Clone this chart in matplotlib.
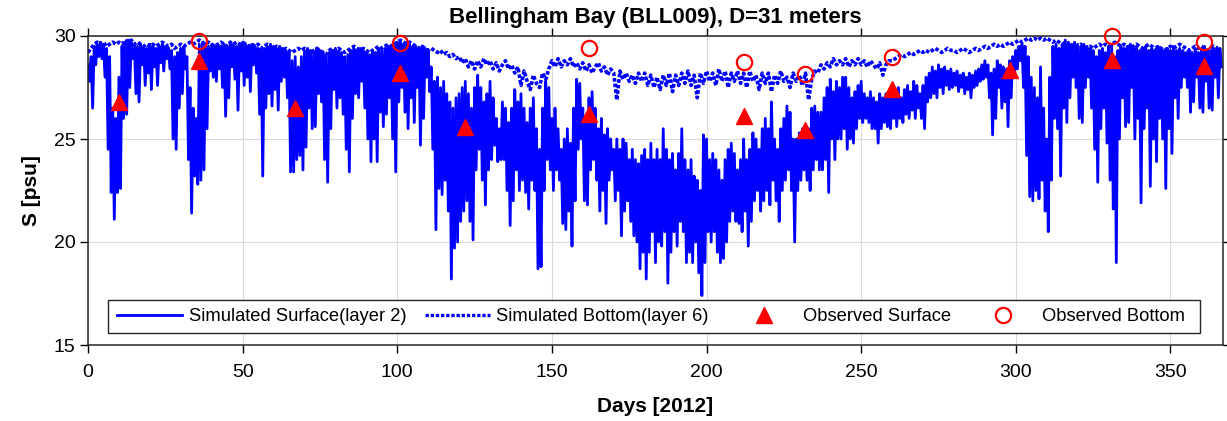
import numpy as np
import matplotlib
matplotlib.use("Agg")
import matplotlib.pyplot as plt
from matplotlib.patches import Rectangle
from matplotlib.lines import Line2D
from matplotlib.legend import Legend

plt.rcParams['font.family'] = ['Liberation Sans', 'DejaVu Sans']

# Daily upper (hi) and lower (lo) salinity of the surface layer, day 0..366
surf_hi = [
    28.6, 29.0, 29.5, 29.6, 29.7, 29.6, 29.4, 29.0, 26.5, 26.0,
    28.0, 29.5, 29.7, 29.8, 29.7, 29.6, 29.5, 29.6, 29.5, 29.4,
    29.6, 29.5, 29.4, 29.5, 29.6, 29.5, 29.4, 29.3, 29.0, 29.2,
    29.4, 29.5, 29.0, 27.5, 26.5, 26.0, 29.6, 29.7, 29.6, 29.5,
    29.6, 29.5, 29.6, 29.5, 29.6, 29.5, 29.7, 29.6, 29.5, 29.6,
    29.7, 29.6, 29.5, 29.6, 29.5, 29.4, 29.3, 29.4, 29.5, 29.6,
    29.5, 29.4, 29.5, 29.4, 29.3, 29.2, 28.8, 29.0, 28.5, 29.0,
    29.3, 29.4, 29.3, 29.2, 29.4, 29.3, 29.2, 29.0, 29.2, 29.3,
    29.4, 29.3, 29.2, 29.0, 29.1, 29.3, 29.4, 29.3, 29.4, 29.3,
    29.2, 29.1, 29.3, 29.2, 29.4, 29.3, 29.4, 29.5, 29.4, 29.5,
    29.7, 29.7, 29.6, 29.7, 29.6, 29.5, 29.5, 29.4, 29.5, 29.4,
    29.3, 28.5, 27.8, 28.0, 27.5, 27.8, 27.2, 26.8, 26.5, 27.0,
    27.2, 27.5, 27.8, 27.2, 26.5, 27.5, 28.1, 27.5, 26.8, 27.2,
    27.8, 27.0, 26.0, 25.5, 26.8, 26.5, 25.8, 26.5, 27.4, 26.8,
    27.2, 26.5, 25.8, 26.5, 27.0, 25.5, 24.5, 26.5, 27.8, 27.5,
    26.0, 26.5, 25.5, 24.5, 25.0, 25.5, 24.8, 26.5, 27.9, 27.7,
    26.5, 26.0, 27.0, 27.3, 26.5, 25.5, 26.0, 25.2, 25.5, 25.0,
    24.5, 25.0, 24.5, 25.0, 24.8, 24.0, 24.5, 24.0, 23.8, 24.2,
    24.5, 24.0, 24.8, 24.0, 24.5, 24.0, 25.5, 24.5, 24.0, 24.3,
    23.5, 24.3, 25.5, 24.0, 23.5, 24.0, 23.2, 23.0, 22.5, 25.2,
    25.0, 24.0, 24.3, 24.0, 23.5, 23.0, 24.0, 24.5, 24.8, 24.3,
    23.5, 24.0, 25.0, 24.0, 24.5, 25.3, 25.0, 24.5, 25.5, 26.0,
    25.5, 26.8, 25.0, 24.5, 25.5, 26.0, 26.6, 26.3, 25.0, 25.0,
    25.3, 25.5, 25.0, 25.5, 26.5, 26.6, 26.3, 26.3, 27.0, 27.5,
    27.9, 27.3, 27.8, 27.5, 28.0, 28.0, 27.5, 27.0, 27.3, 27.6,
    27.8, 27.2, 27.0, 27.3, 27.0, 26.8, 27.2, 27.0, 27.2, 27.0,
    27.4, 27.2, 27.5, 27.0, 27.4, 27.6, 27.3, 27.8, 27.6, 27.2,
    27.6, 28.0, 28.2, 28.5, 28.3, 28.6, 28.4, 28.5, 28.3, 28.4,
    28.2, 28.3, 28.1, 28.2, 28.0, 28.2, 28.1, 28.3, 28.4, 28.6,
    28.8, 28.6, 28.2, 28.4, 28.8, 28.6, 28.5, 28.4, 28.8, 29.0,
    29.3, 29.5, 29.6, 29.5, 29.0, 28.0, 27.5, 27.0, 28.5, 26.5,
    25.0, 28.0, 29.5, 29.6, 29.4, 29.6, 29.8, 29.7, 29.6, 29.7,
    29.6, 29.5, 29.6, 29.5, 29.4, 29.3, 29.0, 29.3, 29.4, 29.2,
    29.5, 29.6, 29.0, 29.3, 29.5, 29.4, 29.5, 29.6, 29.4, 29.5,
    29.3, 29.4, 29.5, 29.3, 29.4, 29.3, 29.5, 29.4, 29.3, 29.4,
    29.3, 29.5, 29.3, 29.4, 29.3, 29.2, 29.3, 29.2, 29.4, 29.2,
    29.3, 29.5, 29.2, 29.3, 29.4, 29.3, 29.4,
]

surf_lo = [
    27.8, 26.5, 28.6, 29.0, 28.9, 28.0, 24.5, 22.4, 21.1, 22.4,
    22.6, 26.0, 26.2, 27.5, 28.9, 27.2, 26.8, 28.6, 27.6, 28.2,
    27.4, 28.5, 27.6, 28.7, 28.3, 28.9, 28.4, 25.0, 24.5, 26.5,
    27.2, 28.4, 24.0, 21.4, 23.2, 22.8, 23.0, 23.5, 25.5, 28.3,
    28.0, 27.8, 28.4, 27.5, 26.1, 27.0, 28.5, 27.9, 26.4, 28.3,
    27.6, 28.0, 27.3, 28.6, 28.2, 26.2, 23.2, 26.5, 27.2, 26.6,
    27.4, 26.4, 27.8, 28.0, 27.0, 23.4, 23.4, 24.0, 24.2, 23.5,
    24.6, 26.5, 25.5, 25.6, 27.2, 26.8, 24.0, 22.9, 25.5, 27.4,
    26.5, 27.0, 26.2, 24.5, 23.4, 26.0, 27.2, 27.0, 27.8, 26.5,
    25.0, 23.9, 25.0, 23.9, 26.3, 25.6, 26.2, 27.0, 25.0, 23.4,
    26.8, 27.5, 26.3, 25.5, 27.0, 25.8, 27.5, 24.7, 26.0, 28.0,
    27.3, 24.5, 20.6, 22.6, 22.3, 23.0, 21.5, 18.2, 19.7, 20.0,
    21.0, 21.5, 22.0, 21.0, 20.1, 23.5, 24.5, 23.0, 21.8, 23.5,
    24.0, 24.7, 23.9, 24.0, 24.0, 22.5, 20.8, 22.0, 23.5, 22.5,
    23.0, 22.4, 21.6, 23.0, 22.5, 18.7, 18.8, 22.5, 24.0, 23.5,
    22.5, 23.5, 23.0, 20.9, 20.6, 21.5, 19.8, 22.0, 24.5, 25.0,
    22.0, 21.8, 23.5, 24.0, 23.0, 21.5, 22.5, 20.9, 23.0, 23.5,
    22.0, 22.5, 20.3, 21.5, 22.0, 21.0, 20.3, 20.0, 18.7, 19.5,
    18.2, 19.5, 20.5, 19.0, 20.0, 19.8, 20.5, 18.0, 19.5, 20.5,
    19.8, 21.0, 20.5, 19.0, 19.5, 19.0, 20.0, 18.5, 17.4, 19.0,
    20.5, 20.0, 20.5, 19.5, 19.0, 19.2, 20.0, 21.0, 21.5, 21.0,
    20.9, 20.5, 21.5, 19.8, 21.0, 22.0, 22.5, 21.5, 22.0, 22.5,
    21.8, 23.0, 22.0, 21.0, 22.5, 23.0, 23.5, 22.5, 20.0, 22.5,
    23.0, 23.5, 23.0, 22.5, 23.5, 24.0, 23.5, 23.5, 24.0, 22.4,
    25.0, 24.0, 25.0, 25.0, 25.5, 24.5, 25.0, 24.8, 25.5, 26.0,
    25.8, 26.0, 25.8, 25.5, 25.5, 24.8, 25.5, 25.8, 25.6, 25.5,
    26.0, 25.6, 26.0, 25.8, 26.2, 26.0, 26.4, 26.0, 26.5, 26.0,
    25.5, 26.8, 27.0, 27.2, 27.0, 27.5, 27.2, 27.6, 27.4, 27.5,
    27.6, 27.3, 27.5, 27.2, 27.4, 27.0, 27.5, 27.6, 27.8, 27.9,
    28.0, 27.0, 25.2, 26.0, 27.5, 26.5, 26.8, 25.6, 27.0, 28.0,
    28.4, 28.8, 27.5, 24.2, 22.2, 22.0, 22.5, 22.1, 23.0, 21.5,
    20.5, 23.0, 26.0, 25.5, 23.2, 26.5, 25.8, 27.0, 28.0, 27.5,
    26.0, 25.8, 27.5, 28.0, 26.5, 24.5, 22.9, 25.5, 26.5, 24.8,
    23.0, 21.6, 19.0, 25.0, 27.0, 25.6, 25.8, 27.5, 25.0, 26.0,
    21.9, 25.5, 26.5, 22.7, 25.0, 23.9, 26.0, 25.0, 22.6, 25.5,
    24.3, 27.0, 26.0, 27.5, 28.0, 27.5, 26.3, 26.8, 28.0, 26.5,
    26.3, 27.8, 26.5, 26.4, 28.0, 27.0, 28.5,
]

# Daily salinity of the bottom layer, day 0..366
bottom = [
    29.2, 29.4, 29.6, 29.7, 29.6, 29.7, 29.5, 29.6, 29.7, 29.6,
    29.7, 29.6, 29.8, 29.7, 29.8, 29.6, 29.7, 29.6, 29.5, 29.6,
    29.5, 29.6, 29.5, 29.6, 29.7, 29.6, 29.5, 29.6, 29.4, 29.5,
    29.6, 29.5, 29.6, 29.7, 29.6, 29.7, 29.8, 29.7, 29.6, 29.7,
    29.6, 29.5, 29.6, 29.7, 29.6, 29.5, 29.7, 29.6, 29.7, 29.6,
    29.7, 29.6, 29.5, 29.6, 29.5, 29.6, 29.4, 29.5, 29.6, 29.5,
    29.4, 29.5, 29.4, 29.3, 29.4, 29.3, 29.2, 29.3, 29.4, 29.3,
    29.4, 29.3, 29.2, 29.3, 29.4, 29.3, 29.2, 29.1, 29.3, 29.4,
    29.3, 29.4, 29.3, 29.2, 29.3, 29.4, 29.5, 29.4, 29.3, 29.4,
    29.3, 29.2, 29.3, 29.4, 29.5, 29.4, 29.5, 29.6, 29.5, 29.6,
    29.7, 29.8, 29.7, 29.6, 29.7, 29.6, 29.5, 29.4, 29.5, 29.4,
    29.3, 29.4, 29.3, 29.2, 29.3, 29.1, 29.2, 29.0, 29.1, 28.9,
    29.0, 28.7, 28.9, 28.5, 28.8, 28.4, 28.8, 28.5, 28.9, 28.6,
    28.8, 28.4, 28.7, 28.3, 28.6, 28.8, 28.4, 28.6, 28.2, 28.5,
    27.6, 28.3, 27.8, 27.4, 28.1, 27.7, 27.5, 28.2, 27.9, 28.4,
    28.8, 28.5, 28.9, 28.5, 28.8, 28.6, 28.9, 28.5, 28.7, 28.4,
    28.7, 28.3, 28.6, 28.2, 28.5, 28.7, 28.3, 28.5, 28.1, 28.4,
    28.2, 26.9, 28.3, 27.9, 28.2, 27.8, 28.1, 27.7, 28.2, 27.8,
    28.2, 27.6, 28.1, 27.5, 28.0, 27.4, 28.1, 27.6, 28.2, 27.3,
    28.1, 27.6, 28.2, 27.7, 28.3, 27.6, 28.1, 27.0, 28.2, 27.7,
    28.3, 27.8, 28.2, 27.6, 28.4, 27.8, 28.3, 27.5, 28.2, 27.8,
    28.3, 27.7, 28.2, 27.5, 28.3, 27.8, 28.1, 27.4, 28.2, 27.7,
    28.2, 27.3, 28.1, 27.7, 28.3, 27.8, 28.0, 27.5, 28.2, 27.8,
    28.1, 27.6, 28.2, 26.9, 27.9, 28.3, 28.2, 28.6, 28.4, 28.7,
    28.5, 28.9, 28.6, 28.8, 28.6, 28.9, 28.5, 28.8, 28.6, 28.9,
    28.6, 28.8, 28.5, 28.8, 28.6, 28.4, 28.7, 28.1, 28.6, 28.8,
    28.8, 28.9, 29.0, 29.1, 29.0, 29.1, 29.2, 29.1, 29.2, 29.3,
    29.2, 29.3, 29.2, 29.3, 29.4, 29.3, 29.2, 29.3, 29.4, 29.3,
    29.3, 29.2, 29.3, 29.4, 29.3, 29.2, 29.3, 29.4, 29.3, 29.4,
    29.5, 29.4, 29.5, 29.6, 29.5, 29.6, 29.5, 29.6, 29.7, 29.6,
    29.7, 29.8, 29.7, 29.8, 29.9, 29.8, 29.9, 29.8, 29.9, 29.8,
    29.9, 29.8, 29.7, 29.8, 29.7, 29.6, 29.7, 29.6, 29.5, 29.6,
    29.5, 29.6, 29.5, 29.4, 29.5, 29.4, 29.5, 29.6, 29.5, 29.6,
    29.5, 29.6, 29.7, 29.6, 29.5, 29.6, 29.5, 29.4, 29.5, 29.6,
    29.5, 29.4, 29.5, 29.6, 29.5, 29.4, 29.5, 29.4, 29.3, 29.4,
    29.5, 29.4, 29.5, 29.6, 29.5, 29.4, 29.3, 29.4, 29.5, 29.4,
    29.5, 29.4, 29.3, 29.4, 29.5, 29.4, 29.5,
]

# Observations (CTD casts)
obs_days = [10, 36, 67, 101, 122, 162, 212, 232, 260, 298, 331, 361]
obs_surface = [26.8, 28.8, 26.5, 28.2, 25.6, 26.2, 26.1, 25.45, 27.45, 28.35, 28.85, 28.55]
obs_bottom_days = [36, 101, 162, 212, 232, 260, 331, 361]
obs_bottom = [29.75, 29.65, 29.42, 28.75, 28.15, 29.0, 30.0, 29.7]

# Surface: within each day the tide swings from the daily high to the daily low
n = len(surf_hi)
surf_t = np.column_stack([np.arange(n), np.arange(n) + 0.5]).ravel()
surf_v = np.column_stack([surf_hi, surf_lo]).ravel()
bot_t = np.arange(len(bottom))

fig = plt.figure(figsize=(12.27, 4.21), dpi=100)
ax = fig.add_axes([88 / 1227, 76 / 421, 1135 / 1227, 309 / 421])

blue = (0, 0, 1)
red = (1, 0, 0)
dots = (0, (1.0, 0.55))
ax.plot(surf_t, surf_v, '-', color=blue, lw=2.0)
ax.plot(bot_t, bottom, linestyle=dots, color=blue, lw=2.6)
ax.plot(obs_days, obs_surface, '^', color=red, ms=11, mec=red, mfc=red,
        clip_on=False, zorder=5)
ax.plot(obs_bottom_days, obs_bottom, 'o', color=red, ms=11, mec=red, mfc='none',
        mew=1.6, clip_on=False, zorder=5)

ax.set_xlim(0, 367)
ax.set_ylim(15, 30)
ax.set_xticks(np.arange(0, 351, 50))
ax.set_yticks([15, 20, 25, 30])
ax.grid(True, color=(0.85, 0.85, 0.85), lw=0.8)
ax.set_axisbelow(True)
ax.tick_params(direction='out', length=6, width=1, labelsize=14,
               top=True, right=True, colors='black')
ax.tick_params(axis='x', pad=8)
ax.tick_params(axis='y', pad=3)
for s in ax.spines.values():
    s.set_linewidth(1.1)
    s.set_color((0.15, 0.15, 0.15))

ax.set_title('Bellingham Bay (BLL009), D=31 meters', fontsize=16,
             fontweight='bold', pad=9)
ax.set_xlabel('Days [2012]', fontsize=15, fontweight='bold', labelpad=11)
ax.set_ylabel('S [psu]', fontsize=15, fontweight='bold', labelpad=9)

# Legend: one framed box holding four entries at their own column positions
box_x, box_y, box_w, box_h = 0.0176, 0.0388, 0.9621, 0.1068
frame = Rectangle((box_x, box_y), box_w, box_h, transform=ax.transAxes,
                  facecolor='white', edgecolor=(0.15, 0.15, 0.15), lw=1.0,
                  zorder=6, clip_on=False)
ax.add_patch(frame)

entries = [
    (Line2D([], [], color=blue, lw=2.0), 'Simulated Surface(layer 2)', 0.0256),
    (Line2D([], [], color=blue, lw=2.4, linestyle=dots), 'Simulated Bottom(layer 6)', 0.2969),
    (Line2D([], [], color=red, marker='^', ms=11, linestyle='none'), 'Observed Surface', 0.5670),
    (Line2D([], [], color=red, marker='o', ms=11, mfc='none', mew=1.6, linestyle='none'),
     'Observed Bottom', 0.7775),
]
y_mid = box_y + box_h / 2
for handle, text, x0 in entries:
    lg = Legend(ax, [handle], [text], loc='center left', bbox_to_anchor=(x0, y_mid),
                frameon=False, fontsize=13.2, handlelength=3.55, handletextpad=0.35,
                borderpad=0, borderaxespad=0, numpoints=1)
    lg.set_zorder(7)
    ax.add_artist(lg)

fig.savefig('out.png', dpi=100)
